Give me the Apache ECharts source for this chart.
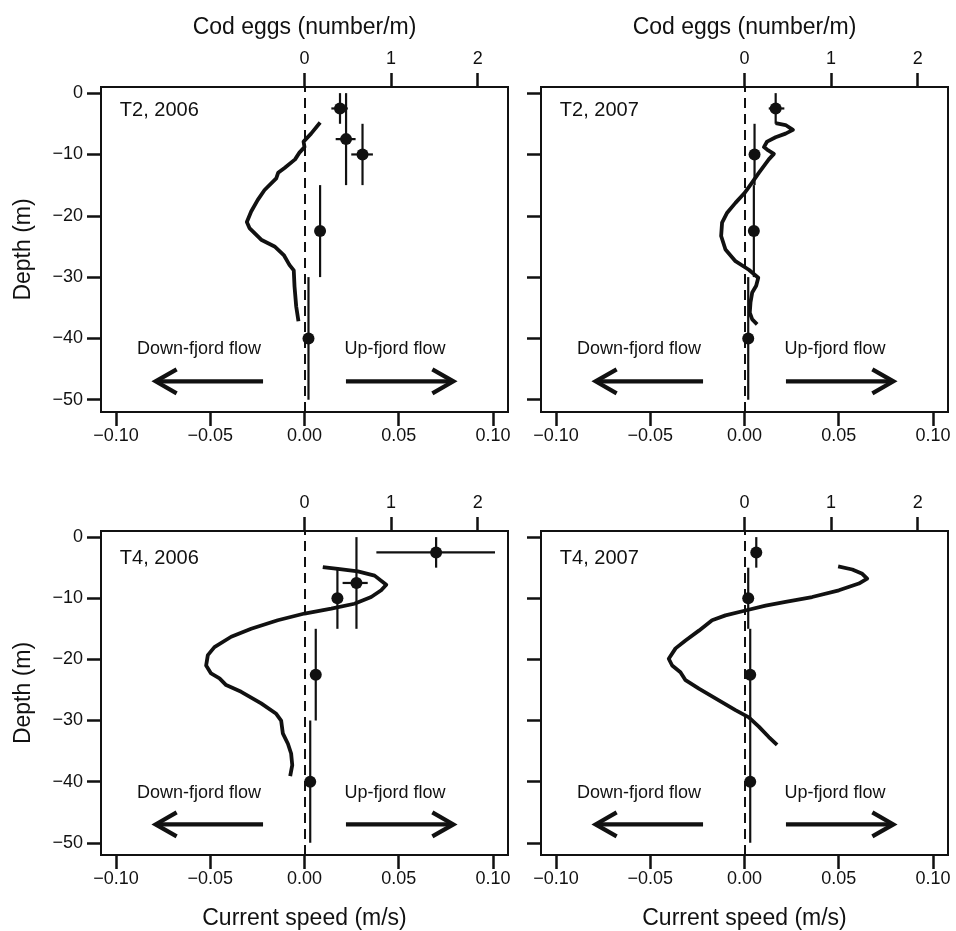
<!DOCTYPE html>
<html>
<head>
<meta charset="utf-8">
<script src="https://cdn.jsdelivr.net/npm/echarts@6/dist/echarts.min.js"></script>
<style>
html,body{margin:0;padding:0;background:#fff;}
#chart{width:956px;height:931px;}
</style>
</head>
<body>
<div id="chart"></div>
<script>
// ---------- DATA ----------
const panelNames = ['T2, 2006', 'T2, 2007', 'T4, 2006', 'T4, 2007'];

// Current speed profiles (m/s) vs depth (m)
const speedT2_2006 = [0.0083, 0.0035, -0.0005, 0.0, -0.0027, -0.005, -0.0106, -0.014, -0.015, -0.0212, -0.0248, -0.0283, -0.0306, -0.0292, -0.023, -0.0159, -0.011, -0.008, -0.0057, -0.0053, -0.0044, -0.0032];
const depthT2_2006 = [-4.8, -6.6, -7.9, -8.8, -9.7, -10.8, -12.2, -13.0, -13.9, -15.8, -17.4, -19.3, -21.0, -22.0, -23.9, -25.0, -26.4, -28.0, -28.9, -31.5, -34.8, -37.2];

const speedT2_2007 = [0.0165, 0.0218, 0.0257, 0.0218, 0.0165, 0.012, 0.0103, 0.012, 0.0156, 0.0129, 0.0076, 0.004, 0.0, -0.0048, -0.0092, -0.0119, -0.0124, -0.0101, -0.0048, 0.0023, 0.0073, 0.0062, 0.0041, 0.0032, 0.0028, 0.0041, 0.0067];
const depthT2_2007 = [-4.9, -5.2, -6.0, -6.6, -7.2, -7.9, -8.8, -9.2, -9.9, -10.8, -13.0, -14.6, -16.3, -17.9, -19.5, -21.1, -23.3, -25.5, -27.4, -28.8, -30.1, -31.4, -32.5, -34.1, -35.8, -36.9, -37.7];

const speedT4_2006 = [0.0097, 0.0177, 0.0283, 0.0372, 0.0434, 0.0407, 0.0354, 0.0265, 0.0142, 0.0, -0.0142, -0.0283, -0.0389, -0.0478, -0.0513, -0.0522, -0.0496, -0.0451, -0.0416, -0.0336, -0.023, -0.015, -0.0124, -0.0115, -0.0088, -0.0071, -0.0065, -0.0076];
const depthT4_2006 = [-4.9, -5.2, -5.6, -6.3, -7.8, -8.7, -9.8, -10.9, -11.7, -12.5, -13.6, -15.0, -16.3, -18.0, -19.3, -21.0, -22.3, -23.1, -24.2, -25.3, -27.2, -28.9, -30.0, -32.1, -33.8, -35.4, -37.3, -39.1];

const speedT4_2007 = [0.0497, 0.0572, 0.0625, 0.0651, 0.0607, 0.0501, 0.0359, 0.0218, 0.0112, 0.0005, -0.0101, -0.0172, -0.0242, -0.0313, -0.0366, -0.0402, -0.0384, -0.034, -0.0313, -0.0242, -0.0136, -0.0048, 0.0023, 0.0076, 0.0129, 0.0173];
const depthT4_2007 = [-4.8, -5.3, -6.0, -6.8, -7.6, -8.7, -9.8, -10.6, -11.2, -12.0, -12.8, -13.6, -15.3, -16.9, -18.2, -19.9, -21.0, -22.1, -23.4, -24.8, -26.7, -28.3, -29.5, -31.0, -32.7, -34.0];

// Cod eggs (number/m): mean, depth of point, sampled stratum (top/bottom), error range (low/high)
const eggsT2_2006      = [0.41, 0.48, 0.67, 0.18, 0.046];
const eggDepthT2_2006  = [-2.5, -7.5, -10, -22.5, -40];
const eggTopT2_2006    = [0, 0, -5, -15, -30];
const eggBottomT2_2006 = [-5, -15, -15, -30, -50];
const eggLowT2_2006    = [0.31, 0.36, 0.54, 0.18, 0.046];
const eggHighT2_2006   = [0.50, 0.59, 0.79, 0.18, 0.046];

const eggsT2_2007      = [0.36, 0.116, 0.108, 0.043];
const eggDepthT2_2007  = [-2.5, -10, -22.5, -40];
const eggTopT2_2007    = [0, -5, -15, -30];
const eggBottomT2_2007 = [-5, -15, -30, -50];
const eggLowT2_2007    = [0.28, 0.116, 0.108, 0.043];
const eggHighT2_2007   = [0.46, 0.116, 0.108, 0.043];

const eggsT4_2006      = [1.52, 0.60, 0.38, 0.13, 0.066];
const eggDepthT4_2006  = [-2.5, -7.5, -10, -22.5, -40];
const eggTopT4_2006    = [0, 0, -5, -15, -30];
const eggBottomT4_2006 = [-5, -15, -15, -30, -50];
const eggLowT4_2006    = [0.83, 0.44, 0.38, 0.13, 0.066];
const eggHighT4_2006   = [2.20, 0.73, 0.38, 0.13, 0.066];

const eggsT4_2007      = [0.136, 0.043, 0.066, 0.066];
const eggDepthT4_2007  = [-2.5, -10, -22.5, -40];
const eggTopT4_2007    = [0, -5, -15, -30];
const eggBottomT4_2007 = [-5, -15, -30, -50];
const eggLowT4_2007    = [0.09, 0.043, 0.066, 0.066];
const eggHighT4_2007   = [0.18, 0.043, 0.066, 0.066];

// Axis ticks
const speedTicks = [-0.10, -0.05, 0.00, 0.05, 0.10];
const eggTicks = [0, 1, 2];
const depthTicks = [0, -10, -20, -30, -40, -50];

// Flow annotations (in data units)
const flowLabels = ['Down-fjord flow', 'Up-fjord flow'];
const flowLabelSpeed = [-0.056, 0.048];
const flowLabelDepth = -41.8;
const arrowTail = [-0.022, 0.022];
const arrowTip = [-0.079, 0.079];
const arrowDepth = -47;
const panelLabelSpeed = -0.098;
const panelLabelDepth = [-2.8, -2.8, -3.5, -3.5];

// ---------- BUILD ----------
const FONT = '"Liberation Sans", Arial, Helvetica, sans-serif';
const INK = '#111';

const panels = [
  {speed: speedT2_2006, depth: depthT2_2006, eggs: eggsT2_2006, ed: eggDepthT2_2006, top: eggTopT2_2006, bot: eggBottomT2_2006, lo: eggLowT2_2006, hi: eggHighT2_2006},
  {speed: speedT2_2007, depth: depthT2_2007, eggs: eggsT2_2007, ed: eggDepthT2_2007, top: eggTopT2_2007, bot: eggBottomT2_2007, lo: eggLowT2_2007, hi: eggHighT2_2007},
  {speed: speedT4_2006, depth: depthT4_2006, eggs: eggsT4_2006, ed: eggDepthT4_2006, top: eggTopT4_2006, bot: eggBottomT4_2006, lo: eggLowT4_2006, hi: eggHighT4_2006},
  {speed: speedT4_2007, depth: depthT4_2007, eggs: eggsT4_2007, ed: eggDepthT4_2007, top: eggTopT4_2007, bot: eggBottomT4_2007, lo: eggLowT4_2007, hi: eggHighT4_2007}
];

const fmtMinus = (v, d) => (v < 0 ? '\u2212' : '') + Math.abs(v).toFixed(d);

const grids = [
  {left: 101, top: 87, width: 407, height: 325},
  {left: 541, top: 87, width: 407, height: 325},
  {left: 101, top: 531, width: 407, height: 325},
  {left: 541, top: 531, width: 407, height: 325}
].map(g => Object.assign(g, {show: true, borderColor: INK, borderWidth: 2, backgroundColor: 'transparent'}));

const xAxes = [];
const yAxes = [];
const series = [];

panels.forEach((p, i) => {
  const isTop = i < 2;
  const isLeft = i % 2 === 0;
  // speed axis (bottom)
  xAxes.push({
    gridIndex: i, type: 'value', position: 'bottom', min: -0.108, max: 0.108,
    name: isTop ? '' : 'Current speed (m/s)',
    nameLocation: 'middle', nameGap: 52,
    nameTextStyle: {fontFamily: FONT, fontSize: 23, color: INK},
    axisLine: {show: true, onZero: false, lineStyle: {color: INK, width: 2}},
    axisTick: {show: true, inside: false, length: 14, lineStyle: {color: INK, width: 2.5}, customValues: speedTicks},
    axisLabel: {show: true, margin: 15, fontFamily: FONT, fontSize: 18, color: INK, customValues: speedTicks, formatter: v => fmtMinus(v, 2)},
    splitLine: {show: false}
  });
  // eggs axis (top)
  xAxes.push({
    gridIndex: i, type: 'value', position: 'top', min: -2.35, max: 2.35,
    name: isTop ? 'Cod eggs (number/m)' : '',
    nameLocation: 'middle', nameGap: 48,
    nameTextStyle: {fontFamily: FONT, fontSize: 23, color: INK},
    axisLine: {show: true, onZero: false, lineStyle: {color: INK, width: 2}},
    axisTick: {show: true, inside: false, length: 14, lineStyle: {color: INK, width: 2.5}, customValues: eggTicks},
    axisLabel: {show: true, margin: 19, fontFamily: FONT, fontSize: 18, color: INK, customValues: eggTicks, formatter: v => String(v)},
    splitLine: {show: false}
  });
  yAxes.push({
    gridIndex: i, type: 'value', min: -52, max: 1,
    name: isLeft ? 'Depth (m)' : '',
    nameLocation: 'middle', nameGap: 66, nameRotate: 90,
    nameTextStyle: {fontFamily: FONT, fontSize: 23, color: INK},
    axisLine: {show: true, onZero: false, lineStyle: {color: INK, width: 2}},
    axisTick: {show: true, inside: false, length: 14, lineStyle: {color: INK, width: 2.5}, customValues: depthTicks},
    axisLabel: {show: isLeft, margin: 18, fontFamily: FONT, fontSize: 18, color: INK, customValues: depthTicks, formatter: v => fmtMinus(v, 0)},
    splitLine: {show: false}
  });

  const sx = 2 * i, ex = 2 * i + 1;

  // current speed profile
  series.push({
    type: 'line', xAxisIndex: sx, yAxisIndex: i,
    data: p.speed.map((s, k) => [s, p.depth[k]]),
    showSymbol: false, symbol: 'none', silent: true,
    lineStyle: {color: INK, width: 3.8, join: 'round', opacity: 1},
    z: 3,
    markLine: {
      silent: true, symbol: 'none', animation: false,
      label: {show: false},
      lineStyle: {color: INK, width: 2, type: [10, 6], opacity: 1},
      data: [{xAxis: 0}]
    }
  });

  // egg error bars (stratum vertical, SE horizontal)
  series.push({
    type: 'custom', xAxisIndex: ex, yAxisIndex: i, silent: true, z: 4,
    data: p.eggs.map((e, k) => [e, p.ed[k], p.top[k], p.bot[k], p.lo[k], p.hi[k]]),
    encode: {x: 0, y: 1},
    renderItem: (params, api) => {
      const x = api.value(0), y = api.value(1);
      const a = api.coord([x, api.value(2)]);
      const b = api.coord([x, api.value(3)]);
      const children = [{type: 'line', shape: {x1: a[0], y1: a[1], x2: b[0], y2: b[1]}, style: {stroke: INK, lineWidth: 2.2}}];
      const lo = api.value(4), hi = api.value(5);
      if (hi > lo) {
        const c = api.coord([lo, y]);
        const d = api.coord([hi, y]);
        children.push({type: 'line', shape: {x1: c[0], y1: c[1], x2: d[0], y2: d[1]}, style: {stroke: INK, lineWidth: 2.2}});
      }
      return {type: 'group', children};
    }
  });

  // egg points
  series.push({
    type: 'scatter', xAxisIndex: ex, yAxisIndex: i, silent: true, z: 5,
    data: p.eggs.map((e, k) => [e, p.ed[k]]),
    symbol: 'circle', symbolSize: 12,
    itemStyle: {color: INK, borderWidth: 0, opacity: 1}
  });

  // flow arrows
  series.push({
    type: 'custom', xAxisIndex: sx, yAxisIndex: i, silent: true, z: 4,
    data: arrowTail.map((t, k) => [t, arrowDepth, arrowTip[k]]),
    encode: {x: 0, y: 1},
    renderItem: (params, api) => {
      const p1 = api.coord([api.value(0), api.value(1)]);
      const p2 = api.coord([api.value(2), api.value(1)]);
      const dir = p2[0] > p1[0] ? 1 : -1;
      return {type: 'group', children: [
        {type: 'line', shape: {x1: p1[0], y1: p1[1], x2: p2[0] - dir * 1, y2: p2[1]}, style: {stroke: INK, lineWidth: 4.2}},
        {type: 'polyline', shape: {points: [[p2[0] - dir * 21, p2[1] - 12], [p2[0], p2[1]], [p2[0] - dir * 21, p2[1] + 12]]},
          style: {stroke: INK, lineWidth: 4.2, fill: null, lineJoin: 'miter'}}
      ]};
    }
  });

  // text annotations: flow labels + panel label
  const textRows = flowLabels.map((t, k) => [flowLabelSpeed[k], flowLabelDepth, k]);
  textRows.push([panelLabelSpeed, panelLabelDepth[i], 2]);
  series.push({
    type: 'custom', xAxisIndex: sx, yAxisIndex: i, silent: true, z: 6,
    data: textRows,
    encode: {x: 0, y: 1},
    renderItem: (params, api) => {
      const pt = api.coord([api.value(0), api.value(1)]);
      const k = api.value(2);
      const isPanel = k === 2;
      return {
        type: 'text', x: pt[0], y: pt[1],
        style: {
          text: isPanel ? panelNames[i] : flowLabels[k],
          fontFamily: FONT, fontSize: isPanel ? 20 : 18, fill: INK,
          align: isPanel ? 'left' : 'center', verticalAlign: 'middle'
        }
      };
    }
  });
});

const chart = echarts.init(document.getElementById('chart'), null, {renderer: 'canvas'});
chart.setOption({
  animation: false,
  backgroundColor: '#fff',
  textStyle: {fontFamily: FONT},
  grid: grids,
  xAxis: xAxes,
  yAxis: yAxes,
  series: series
});
</script>
</body>
</html>
